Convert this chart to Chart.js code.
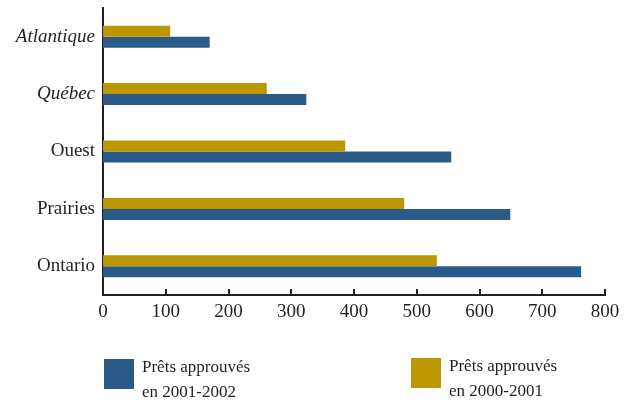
<!DOCTYPE html>
<html lang="fr">
<head>
<meta charset="utf-8">
<title>Prêts approuvés par région</title>
<script src="https://cdn.jsdelivr.net/npm/chart.js@4.4.1/dist/chart.umd.min.js"></script>
<style>
  html, body { margin:0; padding:0; background:#fff; }
  #wrap { position:relative; width:634px; height:404px; }
  .leg { position:absolute; font-family:"Liberation Serif", serif; font-size:17px; line-height:25px; color:#231f20; }
  .leg .sw { position:absolute; left:0; top:0; width:30px; height:30px; }
  .leg .txt { position:absolute; left:38px; top:-5px; white-space:nowrap; }
</style>
</head>
<body>
<div id="wrap">
  <canvas id="pretsChart" width="634" height="404"></canvas>
  <div class="leg" style="left:104px; top:359px;">
    <div class="sw" style="background:#2c5a88"></div>
    <div class="txt">Prêts approuvés<br>en 2001-2002</div>
  </div>
  <div class="leg" style="left:411px; top:358px;">
    <div class="sw" style="background:#bd9700"></div>
    <div class="txt">Prêts approuvés<br>en 2000-2001</div>
  </div>
</div>
<script>
// régions (de haut en bas)
const REGIONS = ['Atlantique', 'Québec', 'Ouest', 'Prairies', 'Ontario'];
// nombre de prêts approuvés
const PRETS_2000_2001 = [107, 261, 386, 480, 532];
const PRETS_2001_2002 = [170, 324, 555, 649, 762];
// graduations de l'axe horizontal
const X_MIN = 0, X_MAX = 800, X_STEP = 100;

const ITALIQUES = ['Atlantique', 'Québec'];
const BLEU = '#2c5a88', OR = '#bd9700', ENCRE = '#231f20';
const POLICE = '"Liberation Serif", serif';

// petites graduations tournées vers l'intérieur sur l'axe des x
const ticksInterieurs = {
  id: 'ticksInterieurs',
  afterDraw(chart){
    const x = chart.scales.x, ctx = chart.ctx;
    const y0 = chart.chartArea.bottom;
    ctx.save();
    ctx.strokeStyle = ENCRE;
    ctx.lineWidth = 2;
    x.ticks.forEach(t => {
      if(t.value === X_MIN) return;
      const px = Math.round(x.getPixelForValue(t.value));
      ctx.beginPath();
      ctx.moveTo(px, y0);
      ctx.lineTo(px, y0 - 6);
      ctx.stroke();
    });
    ctx.restore();
  }
};

new Chart(document.getElementById('pretsChart'), {
  type: 'bar',
  data: {
    labels: REGIONS,
    datasets: [
      { label: 'Prêts approuvés en 2000-2001', data: PRETS_2000_2001, backgroundColor: OR },
      { label: 'Prêts approuvés en 2001-2002', data: PRETS_2001_2002, backgroundColor: BLEU }
    ]
  },
  options: {
    indexAxis: 'y',
    responsive: false,
    animation: false,
    categoryPercentage: 0.383,
    barPercentage: 1,
    layout: { padding: { top: 8, right: 29, bottom: 79, left: 0 } },
    plugins: { legend: { display: false }, tooltip: { enabled: false } },
    scales: {
      x: {
        min: X_MIN, max: X_MAX,
        grid: { display: false, drawTicks: false },
        border: { display: true, color: ENCRE, width: 2 },
        ticks: { stepSize: X_STEP, padding: 6, color: ENCRE, font: { family: POLICE, size: 19 } },
        afterFit(s){ s.height = 30; }
      },
      y: {
        grid: { display: false, drawTicks: false },
        border: { display: true, color: ENCRE, width: 2 },
        ticks: {
          padding: 8, color: ENCRE,
          font: c => ({ family: POLICE, size: 19, style: ITALIQUES.includes(REGIONS[c.index]) ? 'italic' : 'normal' })
        },
        afterFit(s){ s.width = 103; s.paddingTop = 0; s.paddingBottom = 0; }
      }
    }
  },
  plugins: [ticksInterieurs]
});
</script>
</body>
</html>
